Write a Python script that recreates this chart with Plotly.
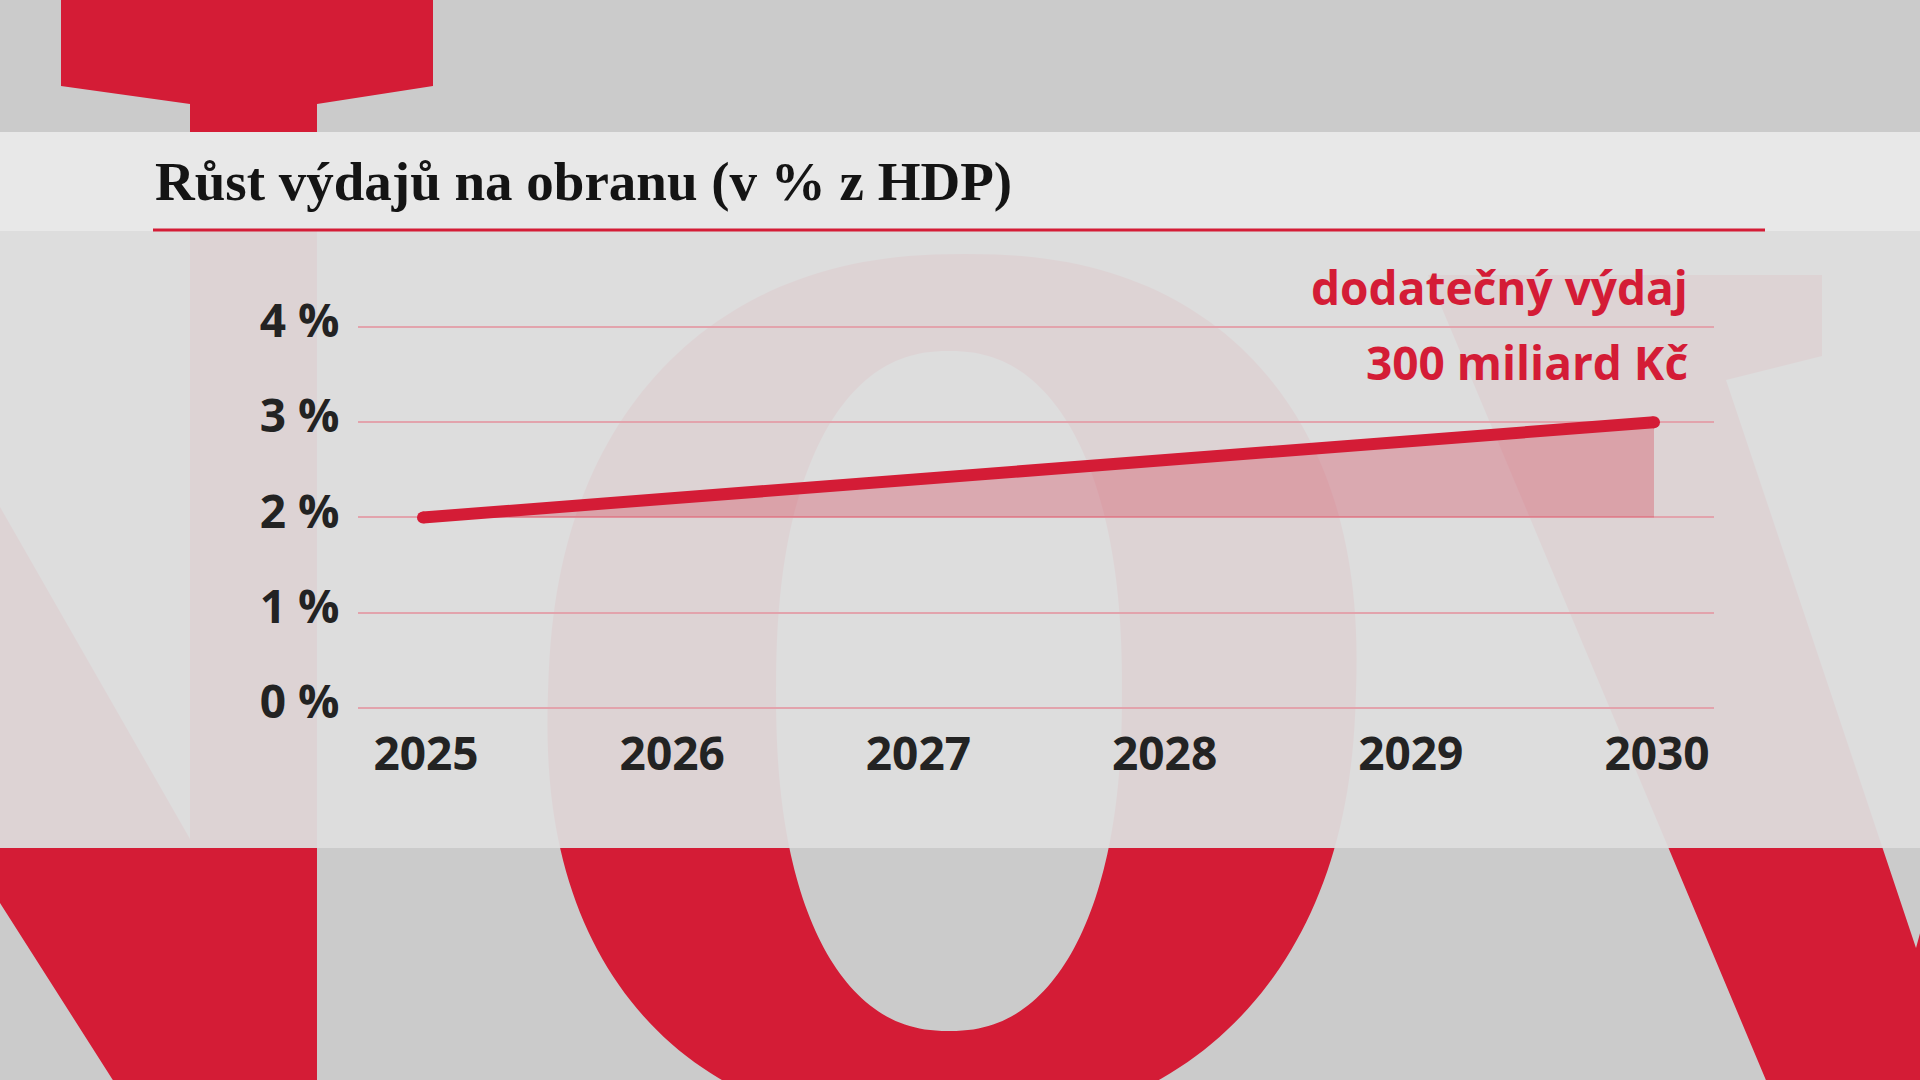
import numpy as np
import plotly.graph_objects as go

# ---- data ----
years = [2025, 2026, 2027, 2028, 2029, 2030]
spending_pct = [2.0, 2.2, 2.4, 2.6, 2.8, 3.0]
baseline_pct = [2.0, 2.0, 2.0, 2.0, 2.0, 2.0]
y_ticks = [0, 1, 2, 3, 4]
y_tick_labels = ["0 %", "1 %", "2 %", "3 %", "4 %"]
x_tick_labels = ["2025", "2026", "2027", "2028", "2029", "2030"]
title_text = "Růst výdajů na obranu (v % z HDP)"
note_line1 = "dodatečný výdaj"
note_line2 = "300 miliard Kč"

W, H = 1920, 1080
RED = "#d41c36"

def px(x):
    return x / W

def py(y):
    return 1 - y / H

def poly_path(pts):
    return "M " + " L ".join(f"{px(x):.5f},{py(y):.5f}" for x, y in pts) + " Z"

def superellipse(cx_fn, cy, a, b, n, reverse=False, steps=240):
    t = np.linspace(0, 2 * np.pi, steps, endpoint=False)
    if reverse:
        t = t[::-1]
    c, s = np.cos(t), np.sin(t)
    xs = a * np.sign(c) * np.abs(c) ** (2 / n)
    ys = b * np.sign(s) * np.abs(s) ** (2 / n)
    pts = [(cx_fn(cy + yy) + xx, cy + yy) for xx, yy in zip(xs, ys)]
    return pts

shapes = []
# letter N / T (left)
left_letter = [(61, -5), (433, -5), (433, 86), (317, 104), (317, 1085), (116, 1085),
               (0, 903), (-5, 903), (-5, 505), (0, 507), (190, 839), (190, 104), (61, 86)]
shapes.append(dict(type="path", xref="paper", yref="paper", path=poly_path(left_letter),
                   fillcolor=RED, line=dict(width=0), layer="below"))
# letter O (centre)
outer = superellipse(lambda y: 952 - 0.03 * (y - 692), 692, 404, 438, 2.3)
inner = superellipse(lambda y: 949, 691, 173, 340, 2.3, reverse=True)
o_path = poly_path(outer) + " " + poly_path(inner)
shapes.append(dict(type="path", xref="paper", yref="paper", path=o_path, fillrule="evenodd",
                   fillcolor=RED, line=dict(width=0), layer="below"))
# letter V (right)
v_letter = [(1428, 275), (1822, 275), (1822, 356), (1726, 380), (1916, 948), (1925, 915),
            (1930, 1085), (1768, 1085)]
shapes.append(dict(type="path", xref="paper", yref="paper", path=poly_path(v_letter),
                   fillcolor=RED, line=dict(width=0), layer="below"))
# translucent panel
shapes.append(dict(type="rect", xref="paper", yref="paper", x0=0, x1=1, y0=py(848), y1=py(231),
                   fillcolor="rgba(221,221,221,0.95)", line=dict(width=0), layer="below"))
# header band
shapes.append(dict(type="rect", xref="paper", yref="paper", x0=0, x1=1, y0=py(231), y1=py(132),
                   fillcolor="#e8e8e8", line=dict(width=0), layer="below"))
# red underline
shapes.append(dict(type="rect", xref="paper", yref="paper", x0=px(153), x1=px(1765),
                   y0=py(231.5), y1=py(228.5), fillcolor=RED, line=dict(width=0), layer="below"))

# ---- axes geometry ----
x_left_px, x_right_px = 357.5, 1714
x2025_px, x2030_px = 423, 1654
ppy = (x2030_px - x2025_px) / 5
x_range = [2025 - (x2025_px - x_left_px) / ppy, 2030 + (x_right_px - x2030_px) / ppy]
y0_px, y4_px = 708, 327
ppu = (y0_px - y4_px) / 4
pad = 0.05
y_bot_px = y0_px + pad * ppu
y_top_px = y4_px - pad * ppu

fig = go.Figure()
fig.add_trace(go.Scatter(x=years, y=baseline_pct, mode="lines", line=dict(width=0),
                         hoverinfo="skip", showlegend=False))
fig.add_trace(go.Scatter(x=years, y=spending_pct, mode="lines", line=dict(width=0),
                         fill="tonexty", fillcolor="rgba(212,28,54,0.27)",
                         hoverinfo="skip", showlegend=False))
fig.add_trace(go.Scatter(x=years, y=spending_pct, mode="lines", line=dict(color=RED, width=12),
                         showlegend=False))
fig.add_trace(go.Scatter(x=[years[0], years[-1]], y=[spending_pct[0], spending_pct[-1]],
                         mode="markers", marker=dict(color=RED, size=12, line=dict(width=0)),
                         showlegend=False))

tick_font = dict(family="Open Sans", size=46, color="#232323", weight=700)

fig.update_layout(
    width=W, height=H, autosize=False,
    margin=dict(l=0, r=0, t=0, b=0, pad=0, autoexpand=False),
    paper_bgcolor="#cbcbcb", plot_bgcolor="rgba(0,0,0,0)",
    shapes=shapes,
    xaxis=dict(domain=[px(x_left_px), px(x_right_px)], range=x_range, automargin=False,
               tickvals=years, ticktext=x_tick_labels, showgrid=False, zeroline=False,
               showline=False, ticks="", tickfont=tick_font, ticklabelstandoff=10,
               ticklabelshift=3, fixedrange=True),
    yaxis=dict(domain=[py(y_bot_px), py(y_top_px)], range=[-pad, 4 + pad], automargin=False,
               tickvals=y_ticks, ticktext=y_tick_labels, showgrid=True,
               gridcolor="#e2a3ac", gridwidth=2, zeroline=False, showline=False,
               ticks="", tickfont=tick_font, ticklabelstandoff=17, ticklabelshift=-6,
               fixedrange=True),
    annotations=[
        dict(text=title_text, xref="paper", yref="paper", x=px(153), y=py(181),
             xanchor="left", yanchor="middle", showarrow=False,
             font=dict(family="Liberation Serif", size=55, color="#141414", weight=700)),
        dict(text=note_line1, xref="paper", yref="paper", x=px(1690), y=py(287),
             xanchor="right", yanchor="middle", showarrow=False,
             font=dict(family="Open Sans", size=46, color=RED, weight=700)),
        dict(text=note_line2, xref="paper", yref="paper", x=px(1690), y=py(362),
             xanchor="right", yanchor="middle", showarrow=False,
             font=dict(family="Open Sans", size=46, color=RED, weight=700)),
    ],
)

fig.write_html("out.html")
